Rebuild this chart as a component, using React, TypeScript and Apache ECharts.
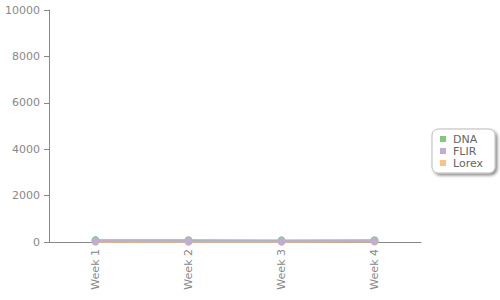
import React, { useEffect, useRef } from "react";
import * as echarts from "echarts";

const categories = ["Week 1", "Week 2", "Week 3", "Week 4"];
const dnaValues = [80, 75, 70, 75];
const flirValues = [40, 35, 30, 40];
const lorexValues = [10, 10, 10, 20];
const yTicks = { min: 0, max: 10000, interval: 2000 };

export default function App() {
  const ref = useRef<HTMLDivElement>(null);
  useEffect(() => {
    if (!ref.current) return;
    const chart = echarts.init(ref.current, undefined, { renderer: "svg" });
    const axisColor = "#888888";
    const font = "DejaVu Sans, Verdana, sans-serif";
    chart.setOption({
      animation: false,
      backgroundColor: "#ffffff",
      grid: { left: 49, right: 79, top: 10, bottom: 58, containLabel: false },
      legend: {
        orient: "vertical",
        left: 432,
        top: 129,
        width: 60,
        padding: [4, 12, 4, 8],
        borderColor: "#bbbbbb",
        borderWidth: 1,
        borderRadius: 6,
        backgroundColor: "#ffffff",
        shadowColor: "rgba(0,0,0,0.45)",
        shadowBlur: 3,
        shadowOffsetX: 2,
        shadowOffsetY: 2,
        icon: "rect",
        itemWidth: 6,
        itemHeight: 6,
        itemGap: 0,
        textStyle: { color: "#666666", fontSize: 11, fontFamily: font, lineHeight: 12, padding: [0, 0, 0, 2] },
        data: ["DNA", "FLIR", "Lorex"],
      },
      xAxis: {
        type: "category",
        data: categories,
        boundaryGap: true,
        axisLine: { lineStyle: { color: axisColor, width: 1 } },
        axisTick: { alignWithLabel: true, length: 5, lineStyle: { color: axisColor } },
        axisLabel: { rotate: 90, color: axisColor, fontSize: 11, fontFamily: font, margin: 7 },
        splitLine: { show: false },
      },
      yAxis: {
        type: "value",
        min: yTicks.min,
        max: yTicks.max,
        interval: yTicks.interval,
        axisLine: { show: true, lineStyle: { color: axisColor, width: 1 } },
        axisTick: { show: true, length: 5, lineStyle: { color: axisColor } },
        axisLabel: { color: axisColor, fontSize: 11, fontFamily: font, margin: 9, formatter: (v: number) => String(v) },
        splitLine: { show: false },
      },
      series: [
        {
          name: "Lorex", type: "line", data: lorexValues, z: 1,
          itemStyle: { color: "#fdc086" }, lineStyle: { width: 2, color: "#fdc086" },
          symbol: "circle", symbolSize: 8, showSymbol: true,
        },
        {
          name: "DNA", type: "line", data: dnaValues, z: 2,
          itemStyle: { color: "#7fc97f" }, lineStyle: { width: 2, color: "#7fc97f" },
          symbol: "circle", symbolSize: 8,
        },
        {
          name: "FLIR", type: "line", data: flirValues, z: 3,
          itemStyle: { color: "#beaed4" }, lineStyle: { width: 2, color: "#beaed4" },
          symbol: "circle", symbolSize: 8,
        },
      ],
    });
    return () => chart.dispose();
  }, []);
  return <div ref={ref} style={{ width: 500, height: 300, position: "absolute", left: 0, top: 0 }} />;
}
